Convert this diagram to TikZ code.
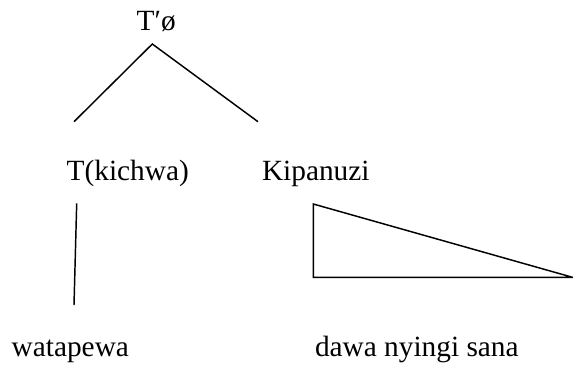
\documentclass[tikz,border=0pt]{standalone}
\usepackage{fontspec}
\setmainfont{Liberation Serif}
\begin{document}
\begin{tikzpicture}[x=0.75pt,y=-0.75pt,
  lbl/.style={anchor=base west,inner sep=0pt,outer sep=0pt,font=\fontsize{22}{26}\selectfont},
  branch/.style={line width=1.1pt,line cap=butt,line join=miter}]
\useasboundingbox (0,0) rectangle (573,365);
% labels
\node[lbl] (top) at (136.7,30) {T′ø};
\node[lbl] (head) at (66.7,180) {T(kichwa)};
\node[lbl] (comp) at (262,180) {Kipanuzi};
\node[lbl] (verb) at (11.7,356.5) {watapewa};
\node[lbl] (obj) at (315,356.5) {dawa nyingi sana};
% branch end points
\coordinate (apex) at (152.3,44);
\coordinate (legL) at (74,121.7);
\coordinate (legR) at (258,121.7);
\coordinate (stemT) at (76.7,203.3);
\coordinate (stemB) at (74,305);
\coordinate (triA) at (313.3,204);
\coordinate (triB) at (313.3,277.3);
\coordinate (triC) at (572.5,277.3);
% tree
\draw[branch] (legL) -- (apex) -- (legR);
\draw[branch] (stemT) -- (stemB);
\draw[branch] (triA) -- (triB) -- (triC) -- cycle;
\end{tikzpicture}
\end{document}
